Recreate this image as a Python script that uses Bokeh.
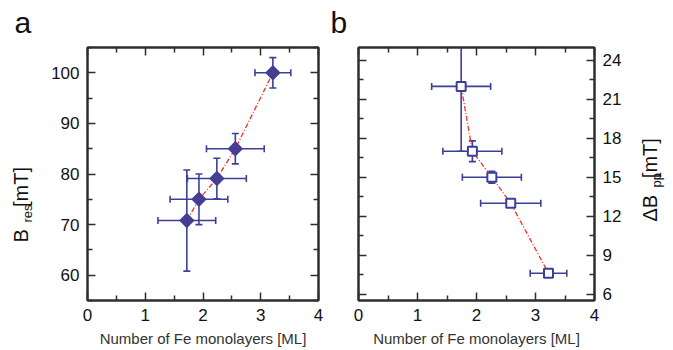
import math
from bokeh.plotting import figure
from bokeh.models import (ColumnDataSource, Whisker, LinearAxis, FixedTicker,
                          Label, Range1d, TeeHead)
from bokeh.layouts import row
from bokeh.embed import file_html
from bokeh.resources import INLINE

# ---------------- data ----------------
fe_ml_a = [1.72, 1.93, 2.24, 2.56, 3.21]          # Number of Fe monolayers, panel a
fe_ml_err_a = [0.50, 0.50, 0.51, 0.50, 0.31]
b_res = [70.8, 75.0, 79.1, 85.0, 100.0]            # B_res [mT]
b_res_err = [10.0, 5.0, 4.0, 3.0, 3.0]

fe_ml_b = [1.74, 1.93, 2.26, 2.58, 3.22]           # panel b
fe_ml_err_b = [0.50, 0.50, 0.50, 0.51, 0.31]
db_pp = [22.0, 17.0, 15.0, 13.0, 7.6]              # ΔB_pp [mT]
db_pp_err = [5.0, 0.8, 0.45, 0.0, 0.0]

x_ticks = [0, 1, 2, 3, 4]
x_minor = [0.5, 1.5, 2.5, 3.5]
ya_ticks = [60, 70, 80, 90, 100]
ya_minor = [55, 65, 75, 85, 95, 105]
yb_ticks = [6, 9, 12, 15, 18, 21, 24]
yb_minor = [7.5, 10.5, 13.5, 16.5, 19.5, 22.5]

x_title = "Number of Fe monolayers [ML]"
NB = "\u00a0"

# ---------------- style ----------------
FONT = "Liberation Sans"
AX = "#2e2e2e"
BLUE = "#3b3f9a"
FILL = "#4a3d8f"
RED = "#ff2b2b"
TXT = "#111111"
H = 350
WA = 328          # width of panel a's canvas (panel b starts here)


def style_axis(ax, ticks, minor, labels=True):
    ax.ticker = FixedTicker(ticks=ticks, minor_ticks=minor)
    ax.major_tick_in = 8
    ax.major_tick_out = 0
    ax.minor_tick_in = 5
    ax.minor_tick_out = 0
    ax.axis_line_color = AX
    ax.axis_line_width = 2
    ax.major_tick_line_color = AX
    ax.major_tick_line_width = 1.5
    ax.minor_tick_line_color = AX
    ax.minor_tick_line_width = 1.5
    ax.major_label_text_font = FONT
    ax.major_label_text_font_size = "17px"
    ax.major_label_text_color = TXT
    ax.major_label_standoff = 8
    ax.axis_label_text_font = FONT
    ax.axis_label_text_font_size = "15px"
    ax.axis_label_text_font_style = "normal"
    ax.axis_label_text_color = "#333333"
    ax.axis_label_standoff = 6
    if not labels:
        ax.major_label_overrides = {t: "" for t in ticks}
        ax.major_label_standoff = 0


def make_fig(width, yr, lb, rb, y_loc):
    p = figure(width=width, height=H, x_range=Range1d(0, 4), y_range=yr,
               output_backend="svg", toolbar_location=None,
               min_border_left=lb, min_border_right=rb,
               min_border_top=47, min_border_bottom=50,
               y_axis_location=y_loc)
    p.xgrid.visible = False
    p.ygrid.visible = False
    p.outline_line_color = AX
    p.outline_line_width = 2
    p.background_fill_color = "white"
    p.border_fill_color = "white"
    return p


def side_label(p, side, px, py, text, size, angle=0.0):
    """Text label in canvas pixels (top-left origin), hosted in a side panel
    so that it is not clipped to the plotting frame."""
    p.add_layout(Label(x=px, y=py, x_units="canvas", y_units="canvas",
                       text=text, angle=angle,
                       text_font=FONT, text_font_size=size, text_color=TXT,
                       text_align="left", text_baseline="middle"), side)


def errorbars(p, src, base, lo, hi, dim):
    p.add_layout(Whisker(source=src, base=base, lower=lo, upper=hi,
                         dimension=dim, line_color=BLUE, line_width=1.6,
                         upper_head=TeeHead(size=7, line_color=BLUE, line_width=1.6),
                         lower_head=TeeHead(size=7, line_color=BLUE, line_width=1.6)))


# ---------------- panel a ----------------
src_a = ColumnDataSource(dict(
    x=fe_ml_a, y=b_res,
    xlo=[x - e for x, e in zip(fe_ml_a, fe_ml_err_a)],
    xhi=[x + e for x, e in zip(fe_ml_a, fe_ml_err_a)],
    ylo=[y - e for y, e in zip(b_res, b_res_err)],
    yhi=[y + e for y, e in zip(b_res, b_res_err)],
))
pa = make_fig(WA, Range1d(55, 105), 87, WA - 318, "left")
style_axis(pa.xaxis[0], x_ticks, x_minor)
style_axis(pa.yaxis[0], ya_ticks, ya_minor)
pa.xaxis[0].axis_label = x_title
ra = LinearAxis()
style_axis(ra, ya_ticks, ya_minor, labels=False)
pa.add_layout(ra, "right")
ta = LinearAxis()
style_axis(ta, x_ticks, x_minor, labels=False)
pa.add_layout(ta, "above")

pa.line("x", "y", source=src_a, line_color=RED, line_width=1.3, line_dash="5 2 1 2")
errorbars(pa, src_a, "y", "xlo", "xhi", "width")
errorbars(pa, src_a, "x", "ylo", "yhi", "height")
pa.scatter("x", "y", source=src_a, marker="square", angle=math.pi / 4, size=9.5,
           fill_color=FILL, line_color=BLUE, line_width=1.5)

side_label(pa, "above", 14, 22, "a", "30px")
side_label(pa, "left", 20, 242, "B" + NB * 4 + "[mT]", "20px", angle=math.pi / 2)
side_label(pa, "left", 27, 222, "res", "13px", angle=math.pi / 2)

# ---------------- panel b ----------------
src_b = ColumnDataSource(dict(
    x=fe_ml_b, y=db_pp,
    xlo=[x - e for x, e in zip(fe_ml_b, fe_ml_err_b)],
    xhi=[x + e for x, e in zip(fe_ml_b, fe_ml_err_b)],
    ylo=[y - e for y, e in zip(db_pp, db_pp_err)],
    yhi=[y + e for y, e in zip(db_pp, db_pp_err)],
))
pb = make_fig(673 - WA, Range1d(5.5, 25), 358 - WA, 673 - 594, "right")
style_axis(pb.xaxis[0], x_ticks, x_minor)
style_axis(pb.yaxis[0], yb_ticks, yb_minor)
pb.xaxis[0].axis_label = x_title
lb_ax = LinearAxis()
style_axis(lb_ax, yb_ticks, yb_minor, labels=False)
pb.add_layout(lb_ax, "left")
tb = LinearAxis()
style_axis(tb, x_ticks, x_minor, labels=False)
pb.add_layout(tb, "above")

pb.line("x", "y", source=src_b, line_color=RED, line_width=1.3, line_dash="5 2 1 2")
errorbars(pb, src_b, "y", "xlo", "xhi", "width")
errorbars(pb, src_b, "x", "ylo", "yhi", "height")
pb.scatter("x", "y", source=src_b, marker="square", size=9,
           fill_color="white", line_color=BLUE, line_width=2)

# canvas coordinates of panel b start at page x = WA
side_label(pb, "above", 330 - WA, 22, "b", "30px")
side_label(pb, "right", 649 - WA, 221, "ΔB" + NB * 3 + "[mT]", "20px", angle=math.pi / 2)
side_label(pb, "right", 656 - WA, 187, "pp", "13px", angle=math.pi / 2)

layout = row(pa, pb)
open("out.html", "w").write(file_html(layout, INLINE))
